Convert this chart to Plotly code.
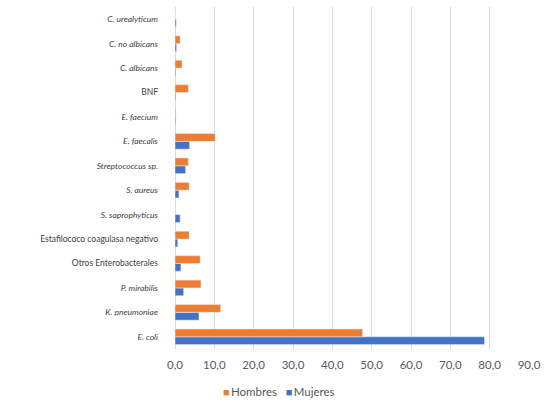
import plotly.graph_objects as go

categories = ["E. coli", "K. pneumoniae", "P. mirabilis", "Otros Enterobacterales",
              "Estafilococo coagulasa negativo", "S. saprophyticus", "S. aureus",
              "Streptococcus sp.", "E. faecalis", "E. faecium", "BNF",
              "C. albicans", "C. no albicans", "C. urealyticum"]
italic = [True, True, True, False, False, True, True, True, True, True, False, True, True, True]
hombres = [47.7, 11.6, 6.6, 6.4, 3.6, 0.0, 3.6, 3.4, 10.2, 0.2, 3.4, 1.8, 1.3, 0.0]
mujeres = [78.7, 6.1, 2.2, 1.5, 0.7, 1.3, 1.0, 2.7, 3.7, 0.2, 0.2, 0.2, 0.4, 0.3]
xticks = [0, 10, 20, 30, 40, 50, 60, 70, 80, 90]
series_names = ["Hombres", "Mujeres"]
series_colors = ["#ED7D31", "#4472C4"]

labels = [f"<i>{c}</i>" if it else c for c, it in zip(categories, italic)]

fig = go.Figure()
fig.add_trace(go.Bar(y=labels, x=mujeres, name=series_names[1], orientation="h",
                     marker_color=series_colors[1], showlegend=False))
fig.add_trace(go.Bar(y=labels, x=hombres, name=series_names[0], orientation="h",
                     marker_color=series_colors[0], showlegend=False))

legend_text = "&nbsp;&nbsp;&nbsp;".join(
    f"<span style='color:{c};font-size:11px'>■</span><span style='font-size:5px'>&nbsp;</span>{n}"
    for n, c in zip(series_names, series_colors))

fig.update_layout(
    width=555, height=411,
    margin=dict(l=175, r=26, t=7, b=62),
    paper_bgcolor="white", plot_bgcolor="white",
    barmode="group", bargap=0.36, bargroupgap=0,
    separators=",.",
    font=dict(family="Lato, Liberation Sans, sans-serif", color="#595959"),
    showlegend=False,
    annotations=[dict(text=legend_text, xref="paper", yref="paper",
                      x=0.294, y=-0.123, xanchor="center", yanchor="middle",
                      showarrow=False, font=dict(size=11.5, color="#595959"))],
)
fig.update_xaxes(range=[0, 90], tickvals=xticks, tickformat=".1f",
                 showgrid=True, gridcolor="#d9d9d9", gridwidth=1,
                 zeroline=True, zerolinecolor="#d9d9d9", zerolinewidth=1,
                 tickfont=dict(size=11.5, color="#595959"), ticks="",
                 ticklabelstandoff=7)
fig.update_yaxes(type="category", categoryorder="array", categoryarray=labels,
                 showgrid=False, zeroline=False, showline=False,
                 tickfont=dict(size=8.5, color="#404040"), ticklabelstandoff=16)

fig.write_html("out.html")
